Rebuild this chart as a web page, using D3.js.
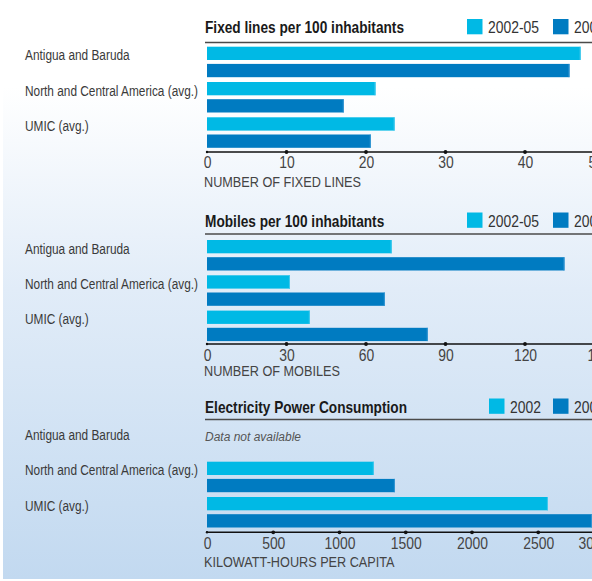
<!DOCTYPE html>
<html>
<head>
<meta charset="utf-8">
<script src="https://cdn.jsdelivr.net/npm/d3@7/dist/d3.min.js"></script>
<style>
  html, body { margin: 0; padding: 0; background: #ffffff; }
  svg { display: block; }
  text { font-family: "Liberation Sans Narrow", "Liberation Sans", Arial, sans-serif; }
</style>
</head>
<body>
<svg id="chart" width="592" height="581"></svg>
<script>
// ---------- data ----------
const categories = ["Antigua and Baruda", "North and Central America (avg.)", "UMIC (avg.)"];

const fixedTitle = "Fixed lines per 100 inhabitants";
const fixedLegend = ["2002-05", "2006-09"];
const fixedEarly = [47.0, 21.2, 23.6];
const fixedLate = [45.6, 17.2, 20.6];
const fixedTicks = [0, 10, 20, 30, 40, 50];
const fixedAxisTitle = "NUMBER OF FIXED LINES";

const mobileTitle = "Mobiles per 100 inhabitants";
const mobileLegend = ["2002-05", "2006-09"];
const mobileEarly = [69.7, 31.3, 38.8];
const mobileLate = [134.9, 67.1, 83.3];
const mobileTicks = [0, 30, 60, 90, 120, 150];
const mobileAxisTitle = "NUMBER OF MOBILES";

const powerTitle = "Electricity Power Consumption";
const powerLegend = ["2002", "2006"];
const powerEarly = [null, 1259, 2573];
const powerLate = [null, 1418, 2905];
const powerTicks = [0, 500, 1000, 1500, 2000, 2500, 3000];
const powerAxisTitle = "KILOWATT-HOURS PER CAPITA";

const missingNote = "Data not available";

// ---------- style / layout ----------
const colLight = "#00b9e5";
const colDark = "#007bc1";
const svg = d3.select("#chart");

const defs = svg.append("defs");
const grad = defs.append("linearGradient").attr("id", "bg").attr("x1", 0).attr("y1", 0).attr("x2", 0).attr("y2", 1);
grad.append("stop").attr("offset", "0.15").attr("stop-color", "#ffffff");
grad.append("stop").attr("offset", "0.5").attr("stop-color", "#e1ecf8");
grad.append("stop").attr("offset", "1").attr("stop-color", "#c2d9f0");
svg.append("rect").attr("x", 3).attr("y", 0).attr("width", 589).attr("height", 579).attr("fill", "url(#bg)");

const panels = [
  { title: fixedTitle, legend: fixedLegend, early: fixedEarly, late: fixedLate, ticks: fixedTicks, axisTitle: fixedAxisTitle,
    titleY: 33, lineY: 42.5, barY0: 46.7, axisY: 152, tickY: 168, axisTitleY: 186.5, legendX: 467, lastLabelX: 588 },
  { title: mobileTitle, legend: mobileLegend, early: mobileEarly, late: mobileLate, ticks: mobileTicks, axisTitle: mobileAxisTitle,
    titleY: 226.5, lineY: 234, barY0: 240, axisY: 344, tickY: 361, axisTitleY: 376, legendX: 467, lastLabelX: 587 },
  { title: powerTitle, legend: powerLegend, early: powerEarly, late: powerLate, ticks: powerTicks, axisTitle: powerAxisTitle,
    titleY: 412.5, lineY: 419.5, barY0: 426.4, axisY: 532.3, tickY: 549, axisTitleY: 567, legendX: 489, lastLabelX: 578 }
];

const step = 35.3, barH = 13.3, barGap = 17.2;

// horizontal condensing helper (emulates condensed typeface)
function condense(sel, factor) {
  sel.each(function () {
    const w = this.getComputedTextLength();
    d3.select(this).attr("textLength", w * factor).attr("lengthAdjust", "spacingAndGlyphs");
  });
}
function measure(str, size, weight, style) {
  const t = svg.append("text").attr("font-size", size).attr("font-weight", weight || "normal")
    .attr("font-style", style || "normal").text(str);
  const w = t.node().getComputedTextLength();
  t.remove();
  return w;
}
const fLabel = 173 / measure(categories[1], 15.5);
const fTitle = 199 / measure(fixedTitle, 17, "bold");
const fNum = 51 / measure("2002-05", 16);
const fAxisT = 157 / measure(fixedAxisTitle, 14.5);
const fNote = 96 / measure(missingNote, 12.5, "normal", "italic");

panels.forEach(p => {
  const g = svg.append("g");
  const x = d3.scaleLinear().domain([0, d3.max(p.ticks)]).range([207, 604.5]);
  const y = d3.scaleBand().domain(categories).range([p.barY0, p.barY0 + step * categories.length]).paddingInner(0).paddingOuter(0);

  // title
  g.append("text").attr("x", 205).attr("y", p.titleY).attr("font-size", 17).attr("font-weight", "bold")
    .attr("fill", "#1a1a1a").text(p.title).call(condense, fTitle);
  g.append("line").attr("x1", 205).attr("x2", 592).attr("y1", p.lineY).attr("y2", p.lineY)
    .attr("stroke", "#4a4a4a").attr("stroke-width", 1.6);

  // legend
  const lg = g.append("g");
  [colLight, colDark].forEach((c, i) => {
    const lx = i === 0 ? p.legendX : 553;
    lg.append("rect").attr("x", lx).attr("y", p.titleY - 14).attr("width", 15.5).attr("height", 15.3).attr("fill", c);
    lg.append("text").attr("x", lx + 21).attr("y", p.titleY).attr("font-size", 16).attr("fill", "#333")
      .text(p.legend[i]).call(condense, fNum);
  });

  // category labels
  g.selectAll(".lab").data(categories).join("text")
    .attr("x", 25).attr("y", d => y(d) + 13.6).attr("font-size", 15.5).attr("fill", "#3a3a3a")
    .text(d => d).call(condense, fLabel);

  // bars
  const rows = categories.map((c, i) => ({ c, a: p.early[i], b: p.late[i] }));
  rows.forEach(r => {
    if (r.a == null && r.b == null) {
      g.append("text").attr("x", 205).attr("y", y(r.c) + 14.8).attr("font-size", 12.5).attr("font-style", "italic")
        .attr("fill", "#555").text(missingNote).call(condense, fNote);
      return;
    }
    [[r.a, colLight, 0, "#45c9ed"], [r.b, colDark, barGap, "#3596d3"]].forEach(([v, col, off, edge]) => {
      g.append("rect").attr("x", x(0)).attr("y", y(r.c) + off).attr("width", x(v) - x(0)).attr("height", barH).attr("fill", col);
      g.append("rect").attr("x", x(v) - 1).attr("y", y(r.c) + off).attr("width", 1).attr("height", barH).attr("fill", edge);
    });
  });

  // axis
  const maxTick = d3.max(p.ticks);
  const ax = g.append("g").attr("transform", `translate(0,${p.axisY})`)
    .call(d3.axisBottom(x).tickValues(p.ticks).tickSize(0).tickPadding(0).tickFormat(d3.format("d")));
  ax.select(".domain").remove();
  ax.attr("font-family", null).attr("font-size", null);
  ax.selectAll(".tick text").attr("y", p.tickY - p.axisY).attr("dy", 0).attr("font-size", 16)
    .attr("fill", "#444").call(condense, fNum);
  // the last (cropped) label sits a little left of its tick, as in the original
  ax.selectAll(".tick").filter(d => d === maxTick).select("text")
    .attr("text-anchor", "start").attr("x", p.lastLabelX - x(maxTick));
  g.append("line").attr("x1", 206).attr("x2", 592).attr("y1", p.axisY).attr("y2", p.axisY)
    .attr("stroke", "#111").attr("stroke-width", 1.5);
  g.selectAll(".dot").data(p.ticks).join("circle").attr("cx", d => x(d)).attr("cy", p.axisY)
    .attr("r", d => d === 0 ? 1.2 : 1.9).attr("fill", "#111");

  // axis title
  g.append("text").attr("x", 204).attr("y", p.axisTitleY).attr("font-size", 14.5).attr("fill", "#444")
    .text(p.axisTitle).call(condense, fAxisT);
});
</script>
</body>
</html>
